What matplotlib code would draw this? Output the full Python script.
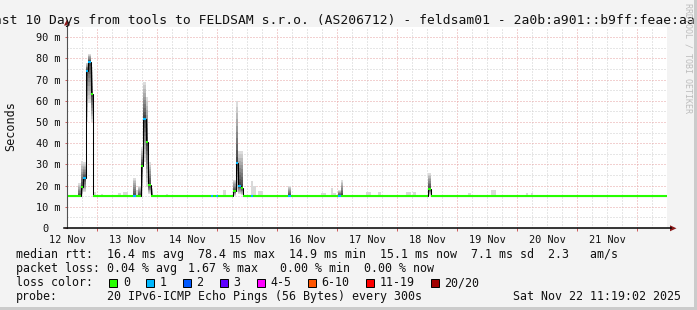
import numpy as np
import matplotlib
matplotlib.use("Agg")
import matplotlib.pyplot as plt
import matplotlib.transforms as mtransforms
from matplotlib.patches import Polygon, Rectangle
from matplotlib.lines import Line2D

W, H = 697, 310
MONO = "DejaVu Sans Mono"

# time axis in hours after 12 Nov 00:00, one consolidated cell per hour
t_min, t_max = 12.0, 252.0
cell_start = 12.4
n_cells = 240
day_labels = ["12 Nov", "13 Nov", "14 Nov", "15 Nov", "16 Nov",
              "17 Nov", "18 Nov", "19 Nov", "20 Nov", "21 Nov"]
y_ticks = [0, 10, 20, 30, 40, 50, 60, 70, 80, 90]
y_labels = ["0", "10 m", "20 m", "30 m", "40 m", "50 m", "60 m", "70 m", "80 m", "90 m"]

# median rtt (ms) baseline before / after cell base_change
base_level = [14.9, 15.2]
base_change = 57

# cells with visible smoke: index, median, lowest ping, highest ping
spike_idx = [4, 5, 6, 7, 8, 9,
             26, 28, 29, 30, 31, 32, 33,
             66, 67, 68, 69, 88, 108, 109, 144]
spike_med = [14.9, 19.2, 23.4, 74.2, 78.4, 63.2,
             14.9, 14.9, 29.2, 51.4, 40.7, 20.3, 14.9,
             17.4, 30.8, 19.8, 19.0, 15.2, 15.2, 15.2, 18.2]
spike_lo = [14.9, 15.5, 17.0, 50.0, 59.0, 50.0,
            14.9, 14.9, 16.0, 31.0, 19.5, 16.0, 14.9,
            15.2, 17.0, 16.0, 15.5, 15.2, 15.2, 15.2, 15.3]
spike_hi = [21.0, 31.5, 31.0, 78.0, 82.0, 76.0,
            23.7, 20.0, 38.0, 69.0, 62.0, 31.0, 19.0,
            22.6, 60.0, 36.5, 36.5, 19.8, 17.9, 22.6, 26.0]

# single outlier pings (light smoke above the median)
blip_idx = [0, 2, 10, 13, 20, 22, 23, 27, 39, 62, 73, 74, 76, 77,
            101, 102, 105, 106, 119, 120, 124, 135, 136, 138, 160, 169, 170, 183, 185]
blip_hi = [15.8, 15.8, 17.0, 16.0, 16.3, 17.0, 17.0, 18.0, 16.0, 17.9, 22.2, 20.0, 17.4, 17.4,
           16.5, 16.5, 19.0, 16.7, 16.8, 16.8, 17.0, 17.0, 17.0, 16.8, 16.5, 18.0, 18.0, 16.5, 16.5]

# cells with 1 of 20 pings lost
loss1_idx = [6, 7, 8, 26, 30, 57, 59, 67, 68, 73, 88, 108]

loss_labels = ["0", "1", "2", "3", "4-5", "6-10", "11-19", "20/20"]
loss_colors = ["#26ff00", "#00b8ff", "#0059ff", "#5e00ff",
               "#ff00ff", "#ff5500", "#ff0000", "#a10000"]

rtt_line = "median rtt:  16.4 ms avg  78.4 ms max  14.9 ms min  15.1 ms now  7.1 ms sd  2.3   am/s"
pl_items = ["0.04 % avg", "1.67 % max", "0.00 % min", "0.00 % now"]
pl_x = [107, 188.5, 279.5, 364]
box_x = [109, 146, 183, 220, 256.5, 308, 366, 431]
box_lab_x = [123, 159.5, 196.5, 233.5, 270.5, 321.5, 379.5, 444.5]
probe_text = "20 IPv6-ICMP Echo Pings (56 Bytes) every 300s"
date_text = "Sat Nov 22 11:19:02 2025"
title = "Last 10 Days from tools to FELDSAM s.r.o. (AS206712) - feldsam01 - 2a0b:a901::b9ff:feae:aa"


def fx(x):
    return x / W


def fy(y):
    return 1 - y / H


fig = plt.figure(figsize=(W / 100, H / 100), dpi=100)
fig.patch.set_facecolor("#f3f3f3")
ax = fig.add_axes([fx(67), fy(228), 600 / W, 201.4 / H])
ax.set_facecolor("white")
ax.set_xlim(t_min, t_max)
ax.set_ylim(0, 95)
for s in ax.spines.values():
    s.set_visible(False)

# grid
red_grid = "#e6a3a3"
grey_grid = "#cfcfcf"
dots = (0, (1, 2))
midnights = np.arange(24, 241, 24)
six_h = [h for h in range(18, 252, 6) if h % 24]
ax.vlines(six_h, 0, 95, colors=grey_grid, lw=0.72, linestyles=dots, zorder=0)
ax.vlines(midnights, 0, 95, colors=red_grid, lw=0.72, linestyles=dots, zorder=0)
ax.hlines(np.arange(5, 95, 10), t_min, t_max, colors=grey_grid, lw=0.72, linestyles=dots, zorder=0)
ax.hlines(y_ticks[1:], t_min, t_max, colors=red_grid, lw=0.72, linestyles=dots, zorder=0)
ax.vlines(midnights, -1.3, 0, colors="#d06060", lw=0.72, clip_on=False, zorder=1)

# data
edges = cell_start + np.arange(n_cells + 1)
idx = np.arange(n_cells)
med = np.where(idx < base_change, base_level[0], base_level[1])
med[spike_idx] = spike_med
loss = np.zeros(n_cells, dtype=int)
loss[loss1_idx] = 1

b_idx = np.array(blip_idx)
ax.bar(edges[b_idx], np.array(blip_hi) - med[b_idx], bottom=med[b_idx], width=1.0,
       align="edge", color="#d9d9d9", linewidth=0, zorder=2)

s_idx = np.array(spike_idx)
s_med = med[s_idx]
s_lo = np.array(spike_lo)
s_hi = np.array(spike_hi)
levels = 10
for k in range(levels, 0, -1):
    lo_k = s_med - (s_med - s_lo) * k / levels
    hi_k = s_med + (s_hi - s_med) * k / levels
    g = int(70 + 150 * (k - 1) / (levels - 1))
    ax.bar(edges[s_idx], hi_k - lo_k, bottom=lo_k, width=1.0, align="edge",
           color="#%02x%02x%02x" % (g, g, g), linewidth=0, zorder=2)

ax.stairs(med, edges, color="black", lw=0.75, baseline=None, zorder=3)
ax.hlines(med, edges[:-1], edges[1:], colors=[loss_colors[l] for l in loss],
          lw=1.5, zorder=4)

# ticks and labels
noons = np.arange(12, 240, 24)
ax.set_xticks(noons, day_labels)
ax.tick_params(axis="x", length=0, pad=5, labelsize=7.4, labelcolor="#111111")
ax.set_yticks(y_ticks, y_labels)
ax.tick_params(axis="y", length=1.5, width=0.72, color="#d06060", pad=2.9,
               labelsize=7.4, labelcolor="#111111")
for lab in ax.get_xticklabels() + ax.get_yticklabels():
    lab.set_family(MONO)
zero = ax.get_yticklabels()[0]
zero.set_transform(zero.get_transform() +
                   mtransforms.ScaledTranslation(-0.12, 0, fig.dpi_scale_trans))

# axes lines with arrows
fig.add_artist(Line2D([fx(67), fx(67)], [fy(228), fy(24)], color="#505050", lw=0.8))
fig.add_artist(Line2D([fx(64), fx(671)], [fy(228.3), fy(228.3)], color="black", lw=1.1))
fig.add_artist(Polygon([(fx(67), fy(19.5)), (fx(64), fy(25.5)), (fx(70), fy(25.5))],
                       closed=True, color="#8b1a1a", lw=0))
fig.add_artist(Polygon([(fx(676.5), fy(228.3)), (fx(670), fy(225.3)), (fx(670), fy(231.3))],
                       closed=True, color="#8b1a1a", lw=0))

# frame shading
fig.add_artist(Rectangle((fx(694), 0), fx(3), 1, color="#cbcbcb", lw=0))
fig.add_artist(Rectangle((0, 0), 1, 3 / H, color="#cbcbcb", lw=0))

# texts
fig.text(fx(-13.8), fy(24), title, family=MONO, fontsize=9.4, va="baseline", ha="left",
         color="#111111")
fig.text(fx(11), fy(126), "Seconds", family=MONO, fontsize=8.5, rotation=90,
         ha="center", va="center", color="#111111")
fig.text(fx(688), fy(3), "RRDTOOL / TOBI OETIKER", family=MONO, fontsize=6,
         rotation=270, ha="center", va="top", color="#bdbdbd")

fig.text(fx(16), fy(258), rtt_line, family=MONO, fontsize=8.4, va="baseline", color="#111111")
rows = ["packet loss:", "loss color:", "probe:"]
for r, yb in zip(rows, [272, 286, 300]):
    fig.text(fx(16), fy(yb), r, family=MONO, fontsize=8.4, va="baseline", color="#111111")
for t, x in zip(pl_items, pl_x):
    fig.text(fx(x), fy(272), t, family=MONO, fontsize=8.4, va="baseline", color="#111111")
for c, bx, t, tx in zip(loss_colors, box_x, loss_labels, box_lab_x):
    fig.add_artist(Rectangle((fx(bx), fy(286.5)), fx(8), 8 / H, facecolor=c,
                             edgecolor="black", lw=0.7))
    fig.text(fx(tx), fy(286), t, family=MONO, fontsize=8.4, va="baseline", color="#111111")
fig.text(fx(107), fy(300), probe_text, family=MONO, fontsize=8.4, va="baseline", color="#111111")
fig.text(fx(513), fy(300), date_text, family=MONO, fontsize=8.4, va="baseline", color="#111111")

fig.savefig("out.png", dpi=100, facecolor=fig.get_facecolor())
